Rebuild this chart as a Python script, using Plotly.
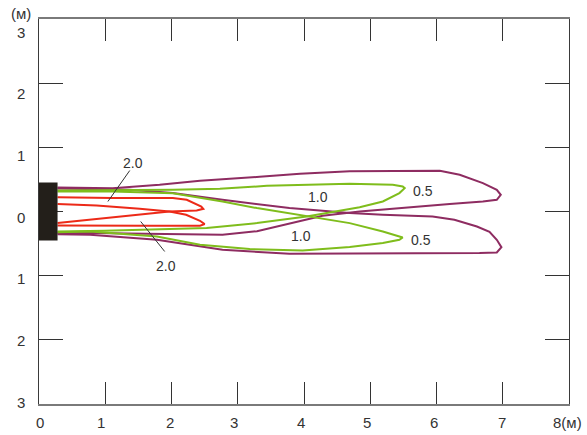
import plotly.graph_objects as go

# ---------------- data ----------------
# contour 0.5 (purple) - upper lobe and lower lobe
p05_up_x = [0.28, 1.11, 1.82, 2.43, 3.33, 3.94, 4.69, 5.44, 6.05, 6.35, 6.70, 6.91, 6.97, 6.91, 6.70, 6.20, 5.19, 4.84, 4.28, 3.78, 3.29, 2.77, 1.78, 0.77, 0.28]
p05_up_y = [0.375, 0.364, 0.416, 0.478, 0.540, 0.587, 0.626, 0.634, 0.634, 0.572, 0.442, 0.338, 0.260, 0.182, 0.156, 0.115, 0.026, 0.0, -0.067, -0.192, -0.308, -0.363, -0.347, -0.336, -0.340]
p05_lo_x = [0.28, 1.37, 2.02, 2.77, 3.78, 4.69, 5.19, 5.94, 6.27, 6.61, 6.80, 6.91, 6.98, 6.91, 6.65, 6.20, 4.84, 3.78, 2.77, 1.78, 0.77, 0.28]
p05_lo_y = [0.358, 0.338, 0.287, 0.182, 0.053, -0.025, -0.051, -0.078, -0.129, -0.234, -0.316, -0.441, -0.555, -0.639, -0.648, -0.648, -0.659, -0.659, -0.597, -0.441, -0.363, -0.355]

# contour 1.0 (green)
g10_up_x = [0.28, 1.11, 2.02, 2.73, 3.44, 4.69, 5.34, 5.49, 5.52, 5.44, 5.19, 4.84, 4.04, 3.29, 2.53, 0.99, 0.28]
g10_up_y = [0.327, 0.327, 0.338, 0.354, 0.400, 0.431, 0.415, 0.389, 0.364, 0.287, 0.156, 0.065, -0.078, -0.181, -0.259, -0.301, -0.312]
g10_lo_x = [0.28, 1.11, 2.02, 2.77, 3.29, 4.04, 4.69, 5.19, 5.49, 5.44, 5.19, 4.69, 3.98, 3.18, 2.43, 1.78, 0.77, 0.28]
g10_lo_y = [0.312, 0.312, 0.284, 0.156, 0.053, -0.078, -0.181, -0.312, -0.405, -0.441, -0.492, -0.555, -0.607, -0.586, -0.519, -0.389, -0.312, -0.324]

# contour 2.0 (red)
r20_up_x = [0.28, 1.11, 2.02, 2.23, 2.45, 2.48, 2.38, 1.97, 0.28]
r20_up_y = [0.224, 0.209, 0.209, 0.182, 0.078, 0.042, 0.016, 0.0, -0.181]
r20_lo_x = [0.28, 0.87, 1.52, 1.97, 2.22, 2.43, 2.50, 2.43, 1.67, 0.28]
r20_lo_y = [0.115, 0.093, 0.042, 0.0, -0.051, -0.145, -0.196, -0.223, -0.223, -0.218]

# contour labels
lab_text = ["2.0", "2.0", "1.0", "1.0", "0.5", "0.5"]
lab_x = [1.42, 1.91, 4.21, 3.96, 5.79, 5.77]
lab_y = [0.763, -0.857, 0.224, -0.389, 0.312, -0.441]

# leader lines for the 2.0 labels (start, end)
lead1_x = [1.37, 1.04]
lead1_y = [0.639, 0.156]
lead2_x = [1.535, 1.897]
lead2_y = [-0.156, -0.623]

# source block
block_x = [-0.035, 0.28]
block_y = [-0.452, 0.452]

# axes
x_ticks = [0, 1, 2, 3, 4, 5, 6, 7, 8]
x_labels = ["0", "1", "2", "3", "4", "5", "6", "7", "8(м)"]
y_ticks = [3, 2, 1, 0, -1, -2, -3]
y_labels = ["3", "2", "1", "0", "1", "2", "3"]

# ---------------- style ----------------
PURPLE = "#8e2c61"
GREEN = "#7fbd1c"
RED = "#ec2a18"
TXT = "#333333"
FONT = "Liberation Sans, Arial, sans-serif"

fig = go.Figure()

for xs, ys, col in [
    (p05_up_x, p05_up_y, PURPLE), (p05_lo_x, p05_lo_y, PURPLE),
    (g10_up_x, g10_up_y, GREEN), (g10_lo_x, g10_lo_y, GREEN),
    (r20_up_x, r20_up_y, RED), (r20_lo_x, r20_lo_y, RED),
]:
    fig.add_trace(go.Scatter(x=xs, y=ys, mode="lines",
                             line=dict(color=col, width=2),
                             hoverinfo="skip", showlegend=False))

for xs, ys in [(lead1_x, lead1_y), (lead2_x, lead2_y)]:
    fig.add_trace(go.Scatter(x=xs, y=ys, mode="lines",
                             line=dict(color=TXT, width=1),
                             hoverinfo="skip", showlegend=False))

fig.add_shape(type="rect", xref="x", yref="y",
              x0=block_x[0], x1=block_x[1], y0=block_y[0], y1=block_y[1],
              fillcolor="#231f1a", line=dict(width=0), layer="above")

annotations = []
for t, x, y in zip(lab_text, lab_x, lab_y):
    annotations.append(dict(x=x, y=y, xref="x", yref="y", text=t, showarrow=False,
                            font=dict(family=FONT, size=14, color=TXT)))

# y tick labels (slightly compressed toward the frame inside, like the original)
y_shift = [-13, -10.6, -8.2, -5.7, -3.2, -0.8, 1.6]
for v, t, s in zip(y_ticks, y_labels, y_shift):
    annotations.append(dict(x=-0.0345, y=v, xref="paper", yref="y", text=t, showarrow=False,
                            xanchor="center", yanchor="middle", yshift=s,
                            font=dict(family=FONT, size=15, color=TXT)))

# x tick labels
x_shift = [0.7, -4, -2, -4, -3.5, -3.5, -2.3, -1, -18]
for v, t, s in zip(x_ticks, x_labels, x_shift):
    annotations.append(dict(x=v, y=0, xref="x", yref="paper", text=t, showarrow=False,
                            xanchor="left" if t.endswith("(м)") else "center",
                            yanchor="middle", xshift=s, yshift=-18.7,
                            font=dict(family=FONT, size=15, color=TXT)))

# unit label at top-left
annotations.append(dict(x=-0.0345, y=1.013, xref="paper", yref="paper", text="(м)",
                        showarrow=False, xanchor="center", yanchor="middle",
                        font=dict(family=FONT, size=15, color=TXT)))

fig.update_layout(
    width=587, height=435,
    margin=dict(l=39, r=18, t=19, b=31),
    paper_bgcolor="white", plot_bgcolor="white",
    showlegend=False,
    hovermode=False,
    annotations=annotations,
    xaxis=dict(range=[0, 8], tickvals=x_ticks, showticklabels=False,
               ticks="inside", ticklen=22, tickwidth=1, tickcolor=TXT,
               showline=True, linecolor="#7a7a7a", linewidth=2, mirror="ticks",
               showgrid=False, zeroline=False, fixedrange=True),
    yaxis=dict(range=[-3, 3], tickvals=y_ticks, showticklabels=False,
               ticks="inside", ticklen=24, tickwidth=1, tickcolor=TXT,
               showline=True, linecolor="#3a3a3a", linewidth=1, mirror="ticks",
               showgrid=False, zeroline=False, fixedrange=True),
)

fig.write_html("out.html",
               config={"displayModeBar": False, "staticPlot": True},
               post_script="document.body.style.margin='0';document.body.style.overflow='hidden';")
